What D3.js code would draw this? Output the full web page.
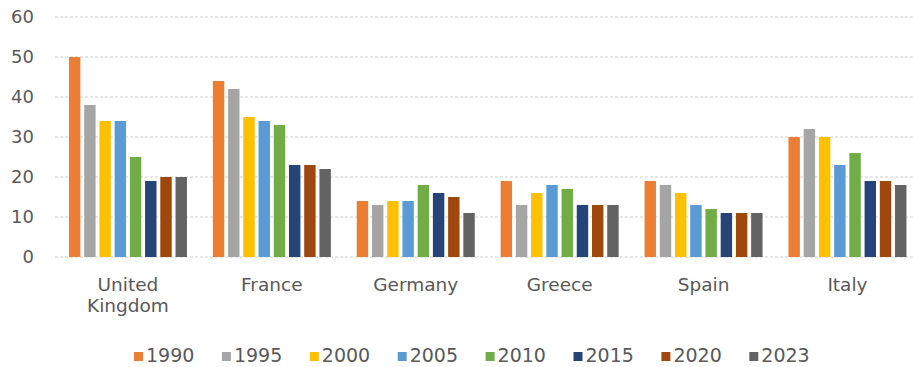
<!DOCTYPE html>
<html>
<head>
<meta charset="utf-8">
<script src="https://cdn.jsdelivr.net/npm/d3@7"></script>
<style>
  html, body { margin: 0; padding: 0; background: #fff; }
  svg { display: block; }
  text { font-family: "DejaVu Sans", sans-serif; fill: #595959; }
</style>
</head>
<body>
<svg id="chart" width="913" height="367"></svg>
<script>
const countries = ["United Kingdom", "France", "Germany", "Greece", "Spain", "Italy"];
const years = ["1990", "1995", "2000", "2005", "2010", "2015", "2020", "2023"];
const colors = ["#ED7D31", "#A5A5A5", "#FFC000", "#5B9BD5", "#70AD47", "#264478", "#9E480E", "#636363"];
const v1990 = [50, 44, 14, 19, 19, 30];
const v1995 = [38, 42, 13, 13, 18, 32];
const v2000 = [34, 35, 14, 16, 16, 30];
const v2005 = [34, 34, 14, 18, 13, 23];
const v2010 = [25, 33, 18, 17, 12, 26];
const v2015 = [19, 23, 16, 13, 11, 19];
const v2020 = [20, 23, 15, 13, 11, 19];
const v2023 = [20, 22, 11, 13, 11, 18];
const yTicks = [0, 10, 20, 30, 40, 50, 60];

const series = [v1990, v1995, v2000, v2005, v2010, v2015, v2020, v2023];

const svg = d3.select("#chart");

const x0 = d3.scaleBand().domain(countries).range([56, 919.4]).paddingInner(0.18).paddingOuter(0.09);
const x1 = d3.scaleBand().domain(years).range([0, x0.bandwidth()]).paddingInner(0.25);
const y = d3.scaleLinear().domain([0, 60]).range([257, 17]);

// gridlines
svg.append("g").selectAll("line").data(yTicks).join("line")
  .attr("x1", 55).attr("x2", 913)
  .attr("y1", d => y(d)).attr("y2", d => y(d))
  .attr("stroke", "#cfcfcf").attr("stroke-width", 1)
  .attr("stroke-dasharray", "3,2");

// y labels
svg.append("g").selectAll("text").data(yTicks).join("text")
  .attr("x", 34).attr("y", d => y(d)).attr("dy", "0.36em")
  .attr("text-anchor", "end").attr("font-size", 18)
  .text(d => d);

// bars
const g = svg.append("g");
countries.forEach((c, ci) => {
  const grp = g.append("g").attr("transform", `translate(${x0(c)},0)`);
  years.forEach((yr, si) => {
    const val = series[si][ci];
    grp.append("rect")
      .attr("x", x1(yr)).attr("width", x1.bandwidth())
      .attr("y", y(val)).attr("height", y(0) - y(val))
      .attr("fill", colors[si]);
  });
});

// x labels
const xl = svg.append("g");
countries.forEach(c => {
  const cx = x0(c) + x0.bandwidth() / 2;
  const words = c === "United Kingdom" ? ["United", "Kingdom"] : [c];
  words.forEach((w, i) => {
    xl.append("text").attr("x", cx).attr("y", 291 + i * 21)
      .attr("text-anchor", "middle").attr("font-size", 18.5).text(w);
  });
});

// legend
const lg = svg.append("g");
years.forEach((yr, i) => {
  const lx = 134 + i * 87.9;
  lg.append("rect").attr("x", lx).attr("y", 352).attr("width", 9).attr("height", 9).attr("fill", colors[i]);
  lg.append("text").attr("x", lx + 12).attr("y", 361.5).attr("font-size", 19).text(yr);
});
</script>
</body>
</html>
